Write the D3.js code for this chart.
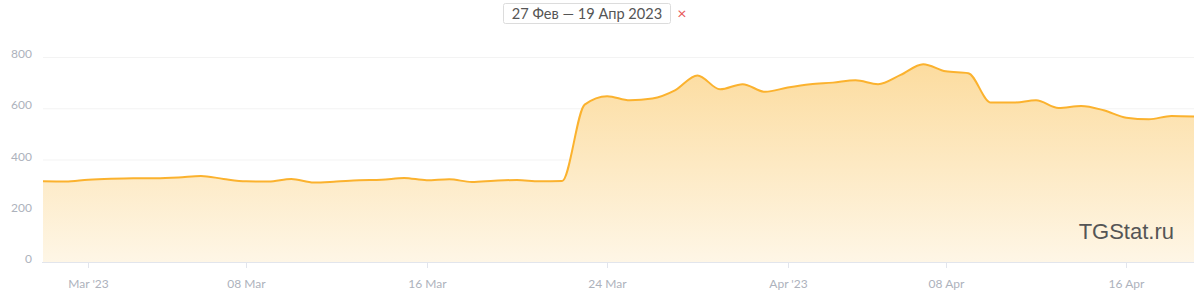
<!DOCTYPE html>
<html>
<head>
<meta charset="utf-8">
<script src="https://cdn.jsdelivr.net/npm/d3@7"></script>
<style>
  body { margin: 0; background: #fff; }
  svg { display: block; }
</style>
</head>
<body>
<svg id="chart" width="1198" height="301"></svg>
<script>
// daily values, 27 Feb .. 19 Apr 2023
var startDate = "2023-02-27";
var values = [
  315, 314, 321, 325, 327, 327, 330, 336, 324, 315,
  314, 324, 310, 314, 319, 321, 328, 319, 323, 312,
  317, 320, 315, 316, 614, 647, 631, 638, 670, 728,
  674, 694, 664, 681, 694, 700, 709, 694, 730, 772,
  744, 737, 622, 622, 631, 601, 609, 592, 563, 557,
  570, 568
];
var yTicks = [0, 200, 400, 600, 800];
var xTickDates = ["2023-03-01", "2023-03-08", "2023-03-16", "2023-03-24", "2023-04-01", "2023-04-08", "2023-04-16"];
var xTickLabels = ["Mar '23", "08 Mar", "16 Mar", "24 Mar", "Apr '23", "08 Apr", "16 Apr"];
var rangeLabel = "27 Фев — 19 Апр 2023";

var parse = d3.utcParse("%Y-%m-%d");
var t0 = parse(startDate);
var data = values.map(function(v, i) {
  return { date: d3.utcDay.offset(t0, i), value: v };
});

var svg = d3.select("#chart");
var mLeft = 43, mRight = 1194, mTop = 57, mBottom = 262;

var x = d3.scaleUtc()
  .domain([data[0].date, data[data.length - 1].date])
  .range([mLeft, mRight]);
var y = d3.scaleLinear().domain([0, 800]).range([mBottom, mTop]);

// gradient
var defs = svg.append("defs");
var grad = defs.append("linearGradient")
  .attr("id", "fillGrad")
  .attr("x1", 0).attr("y1", 0).attr("x2", 0).attr("y2", 1);
grad.append("stop").attr("offset", "0%").attr("stop-color", "#fcdc9f");
grad.append("stop").attr("offset", "100%").attr("stop-color", "#fef6e6");

// grid
svg.append("g").selectAll("line")
  .data(yTicks.filter(function(d) { return d > 0; }))
  .enter().append("line")
  .attr("x1", mLeft).attr("x2", mRight)
  .attr("y1", function(d) { return y(d) + 0.5; })
  .attr("y2", function(d) { return y(d) + 0.5; })
  .attr("stroke", "#f3f3f3");

svg.append("g").selectAll("text")
  .data(yTicks)
  .enter().append("text")
  .attr("x", 32)
  .attr("y", function(d) { return y(d) + 1; })
  .attr("text-anchor", "end")
  .style("font-family", "Lato, sans-serif")
  .style("font-size", "12px")
  .style("fill", "#adb2bc")
  .text(function(d) { return d; });

var area = d3.area()
  .curve(d3.curveMonotoneX)
  .x(function(d) { return x(d.date); })
  .y0(mBottom)
  .y1(function(d) { return y(d.value); });

var line = d3.line()
  .curve(d3.curveMonotoneX)
  .x(function(d) { return x(d.date); })
  .y(function(d) { return y(d.value); });

svg.append("path").datum(data)
  .attr("d", area)
  .attr("fill", "url(#fillGrad)");

svg.append("path").datum(data)
  .attr("d", line)
  .attr("fill", "none")
  .attr("stroke", "#fbb22e")
  .attr("stroke-width", 2);

// x axis
svg.append("line")
  .attr("x1", mLeft - 1).attr("x2", mRight)
  .attr("y1", mBottom + 0.5).attr("y2", mBottom + 0.5)
  .attr("stroke", "#e2e5ec");

var xt = svg.append("g").selectAll("g")
  .data(xTickDates)
  .enter().append("g")
  .attr("transform", function(d) { return "translate(" + (Math.round(x(parse(d))) + 0.5) + "," + mBottom + ")"; });
xt.append("line").attr("y1", 0).attr("y2", 6).attr("stroke", "#e2e5ec");
xt.append("text")
  .attr("y", 26)
  .attr("text-anchor", "middle")
  .style("font-family", "Lato, sans-serif")
  .style("font-size", "12px")
  .style("fill", "#adb2bc")
  .text(function(d, i) { return xTickLabels[i]; });

// watermark
svg.append("text")
  .attr("x", 1174).attr("y", 239)
  .attr("text-anchor", "end")
  .style("font-family", "'Liberation Sans', Arial, sans-serif")
  .style("font-size", "22px")
  .style("fill", "#555")
  .text("TGStat.ru");

// range label
svg.append("rect")
  .attr("x", 503.5).attr("y", 3.5).attr("width", 167).attr("height", 20).attr("rx", 2)
  .attr("fill", "#fff").attr("stroke", "#dcdcdc");
svg.append("text")
  .attr("x", 587).attr("y", 18.5)
  .attr("text-anchor", "middle")
  .style("font-family", "Lato, sans-serif")
  .style("font-size", "14.6px")
  .style("fill", "#555")
  .text(rangeLabel);
svg.append("text")
  .attr("x", 682).attr("y", 19)
  .attr("text-anchor", "middle")
  .style("font-family", "Lato, sans-serif")
  .style("font-size", "16px")
  .style("fill", "#e85a5a")
  .text("×");
</script>
</body>
</html>
